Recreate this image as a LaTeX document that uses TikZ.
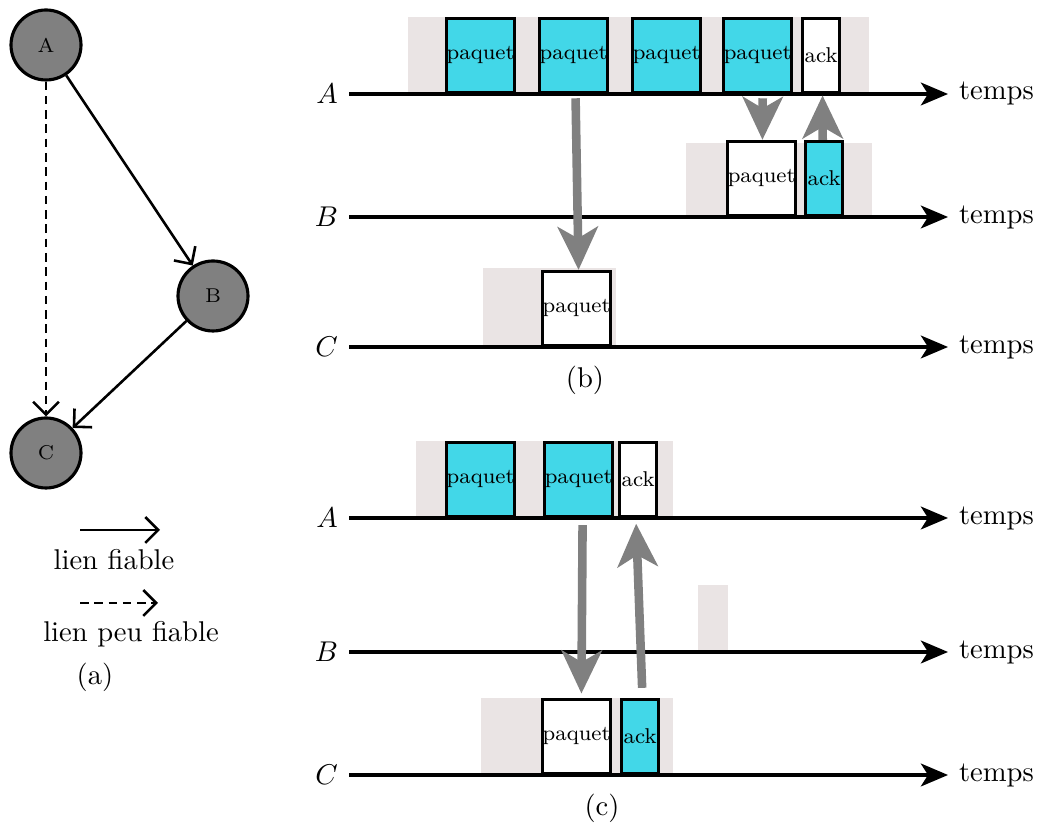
\documentclass[tikz,border=0pt]{standalone}
\usepackage{amsmath}
\usepackage{tikz}
\usetikzlibrary{arrows.meta}

\definecolor{paqcyan}{RGB}{66,215,232}
\definecolor{fondgris}{RGB}{234,228,228}

\begin{document}
\begin{tikzpicture}[x=0.35pt,y=-0.35pt,
  noeud/.style={circle,draw,line width=1.1pt,fill=gray,minimum size=24.5pt,inner sep=0pt,font=\scriptsize},
  lien/.style={line width=0.9pt,-{Straight Barb[length=4.5pt,width=9pt]}},
  pointille/.style={dash pattern=on 3pt off 2pt},
  axe/.style={line width=1.1pt,-{Stealth[length=9.5pt,width=8pt,inset=2.5pt]}},
  fond/.style={fill=fondgris,draw=none},
  paq/.style={draw,line width=1.1pt,anchor=south west,minimum width=23.8pt,minimum height=25.9pt,inner sep=0pt,font=\fontsize{7.5}{9}\selectfont},
  ackb/.style={paq,minimum width=13pt},
  fleche/.style={draw=gray,line width=3pt,-{Stealth[length=15pt,width=14pt,inset=4pt]}}]
          \useasboundingbox (0,0) rectangle (1039,826);
          % (a) le graphe
          \node[noeud] (A) at (46,45) {A};
          \node[noeud] (B) at (213,296) {B};
          \node[noeud] (C) at (46,453) {C};
          \draw[lien] (A)--(B);
          \draw[lien] (B)--(C);
          \draw[lien,pointille] (A)--(C);
          \coordinate (lf0) at (80,530);
          \coordinate (lf1) at (160,530);
          \coordinate (lp0) at (80,603);
          \coordinate (lp1) at (158,603);
          \draw[lien] (lf0)--(lf1);
          \draw[lien,pointille] (lp0)--(lp1);
          \node (lf) at (114,560) {lien fiable};
          \node (lp) at (131,634) {lien peu fiable};
          \node (sa) at (95,677) {(a)};
          % fonds gris
          \fill[fond] (408,17) rectangle (869,94);
          \fill[fond] (686,143) rectangle (872,217);
          \fill[fond] (483,268) rectangle (616,347);
          \fill[fond] (416,441) rectangle (673,518);
          \fill[fond] (698,585) rectangle (728,652);
          \fill[fond] (481,698) rectangle (673,775);
          % axes du temps
          \foreach \n/\l/\y in {bA/A/94,bB/B/217,bC/C/347,cA/A/518,cB/B/652,cC/C/775}{
            \coordinate (\n0) at (349,\y);
            \coordinate (\n1) at (948,\y);
            \draw[axe] (\n0) node[left] (l\n) {$\l$} -- (\n1) node[right] (t\n) {temps};
          }
          \node (sb) at (585,380) {(b)};
          \node (sc) at (602,808) {(c)};
          % (b)
          \node[paq,fill=paqcyan] (bpa1) at (445,94) {paquet};
          \node[paq,fill=paqcyan] (bpa2) at (538,94) {paquet};
          \node[paq,fill=paqcyan] (bpa3) at (631,94) {paquet};
          \node[paq,fill=paqcyan] (bpa4) at (722,94) {paquet};
          \node[ackb,fill=white] (back) at (801,94) {ack};
          \node[paq,fill=white] (bpb) at (726,217) {paquet};
          \node[ackb,fill=paqcyan] (bbck) at (804,217) {ack};
          \node[paq,fill=white] (bpc) at (541,347) {paquet};
          \draw[fleche] ([xshift=0.7pt,yshift=-1.5pt]bpa2.south) -- ([xshift=0.7pt]bpc.north);
          \draw[fleche] ([xshift=1.8pt,yshift=-1.5pt]bpa4.south) -- ([xshift=0.3pt]bpb.north);
          \draw[fleche] ([xshift=-0.5pt]bbck.north) -- ([xshift=0.5pt,yshift=-0.5pt]back.south);
          % (c)
          \node[paq,fill=paqcyan] (cpa1) at (445,518) {paquet};
          \node[paq,fill=paqcyan] (cpa2) at (543,518) {paquet};
          \node[ackb,fill=white] (cack) at (618,518) {ack};
          \node[paq,fill=white] (cpc) at (541,775) {paquet};
          \node[ackb,fill=paqcyan] (ccck) at (620,775) {ack};
          \draw[fleche] ([xshift=1.4pt,yshift=-2.5pt]cpa2.south) -- ([xshift=1.7pt,yshift=1.5pt]cpc.north);
          \draw[fleche] ([xshift=0.7pt,yshift=3.5pt]ccck.north) -- ([xshift=-0.7pt,yshift=-2pt]cack.south);
        \end{tikzpicture}
\end{document}
